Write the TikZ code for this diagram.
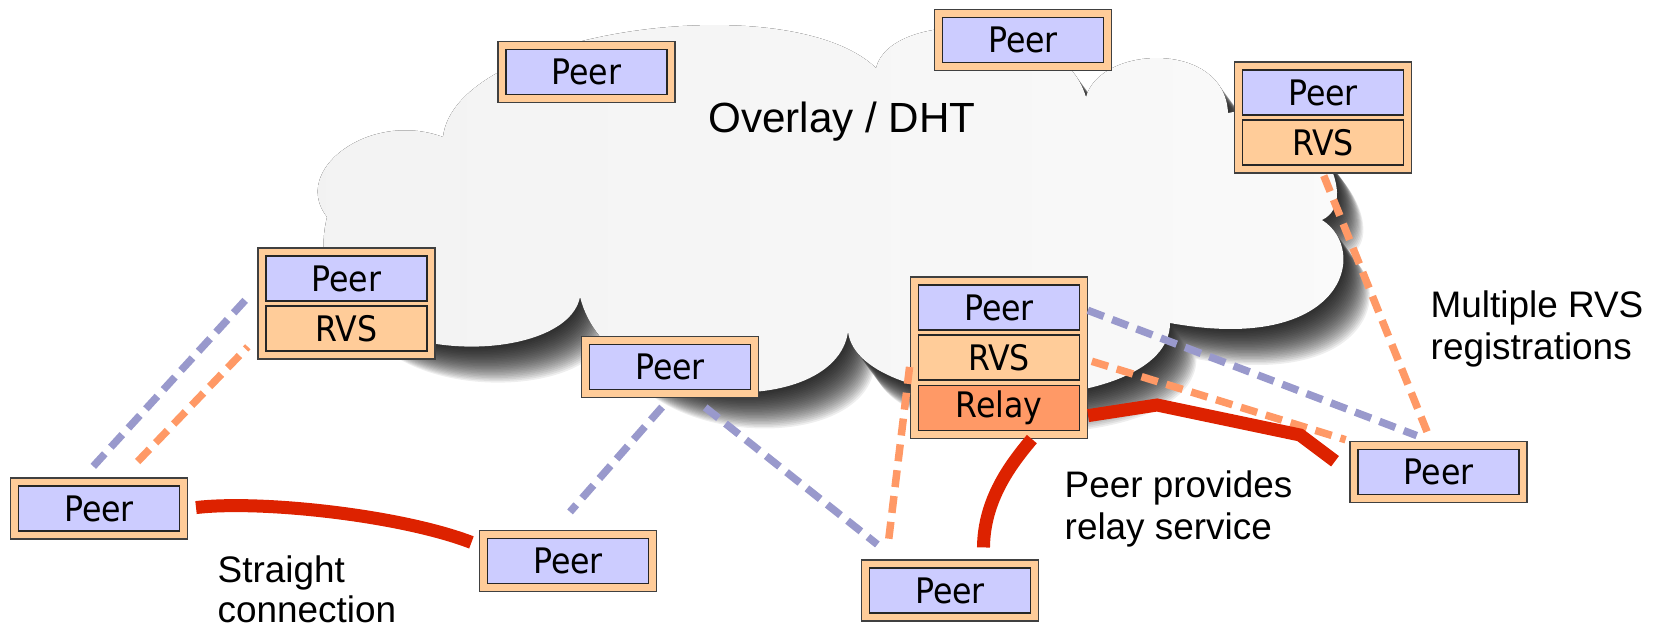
\documentclass[tikz,border=0pt]{standalone}
\usepackage{fontspec}
\setmainfont{Liberation Sans}
\newfontfamily\cellfont{DejaVu Sans}[FakeStretch=0.9]
\usetikzlibrary{positioning,fit,backgrounds}

\definecolor{peerblue}{HTML}{CCCCFF}
\definecolor{rvsorange}{HTML}{FFCC99}
\definecolor{relayorange}{HTML}{FF9966}
\definecolor{dashblue}{HTML}{9999CC}
\definecolor{dashorange}{HTML}{FF9966}
\definecolor{linkred}{HTML}{DD2200}

\tikzset{
  cell/.style={draw=black!85,line width=0.5pt,minimum width=16.1mm,minimum height=4.5mm,inner sep=0pt,font=\cellfont\fontsize{10}{12}\selectfont},
  peer/.style={cell,fill=peerblue},
  rvs/.style={cell,fill=rvsorange},
  relaycell/.style={cell,fill=relayorange},
  hostbox/.style={draw=black!75,line width=0.4pt,fill=rvsorange,inner sep=0.7mm},
  regline/.style={line width=0.75mm,dash pattern=on 1.7mm off 0.9mm},
  bluereg/.style={regline,dashblue},
  orangereg/.style={regline,dashorange},
  datalink/.style={line width=1.3mm,linkred},
  caption/.style={align=left,anchor=north west,inner sep=0pt,font=\fontsize{10.5}{12}\selectfont}
}

\newcommand\cloudpath{(443,137)
  .. controls (455,30) and (790,-15) .. (876,68)
  .. controls (890,10) and (1060,10) .. (1086,97)
  .. controls (1100,45) and (1225,40) .. (1228,113)
  .. controls (1310,95) and (1365,200) .. (1322,220)
  .. controls (1370,250) and (1345,355) .. (1170,323)
  .. controls (1170,420) and (860,420) .. (848,332)
  .. controls (835,420) and (610,415) .. (580,297)
  .. controls (565,375) and (290,370) .. (327,217)
  .. controls (290,170) and (370,110) .. (443,137) -- cycle}

\begin{document}
\begin{tikzpicture}[x=0.1mm,y=-0.1mm,node distance=0.35mm]
	\useasboundingbox (0,0) rectangle (1659,626);
	% overlay cloud with soft shadow
	\begin{scope}[on background layer]
		\foreach \k in {1,...,24}
			\fill[black,opacity=0.065,shift={(1.1*\k,1.5*\k)}] \cloudpath;
		\fill[left color=black!5,right color=black!2] \cloudpath;
	\end{scope}
	\node[font=\fontsize{12}{14}\selectfont,anchor=north,inner sep=0pt] (overlay) at (842,101) {Overlay / DHT};
	% hosts
	\node[peer] (peerTL) at (586.5,72) {Peer};
	\node[peer] (peerTC) at (1023,40) {Peer};
	\node[peer] (peerTR) at (1323,92.5) {Peer};
	\node[rvs,below=of peerTR] (rvsTR) {RVS};
	\node[peer] (peerL) at (346.5,278.5) {Peer};
	\node[rvs,below=of peerL] (rvsL) {RVS};
	\node[peer] (peerM) at (670,367) {Peer};
	\node[peer] (peerR) at (999,307.5) {Peer};
	\node[rvs,below=of peerR] (rvsR) {RVS};
	\node[relaycell,below=of rvsR] (relayR) {Relay};
	\node[peer] (peerBL) at (99,508.5) {Peer};
	\node[peer] (peerBC) at (568,561) {Peer};
	\node[peer] (peerB) at (950,590.5) {Peer};
	\node[peer] (peerE) at (1438.5,472) {Peer};
	\begin{scope}[on background layer]
		\node[hostbox,fit=(peerTL)] (boxTL) {};
		\node[hostbox,fit=(peerTC)] (boxTC) {};
		\node[hostbox,fit=(peerTR)(rvsTR)] (boxTR) {};
		\node[hostbox,fit=(peerL)(rvsL)] (boxL) {};
		\node[hostbox,fit=(peerM)] (boxM) {};
		\node[hostbox,fit=(peerR)(relayR)] (boxR) {};
		\node[hostbox,fit=(peerBL)] (boxBL) {};
		\node[hostbox,fit=(peerBC)] (boxBC) {};
		\node[hostbox,fit=(peerB)] (boxB) {};
		\node[hostbox,fit=(peerE)] (boxE) {};
	\end{scope}
	% registrations
	\draw[bluereg,shorten <=1.5mm,shorten >=2.8mm] (boxBL.117) -- (peerL.west);
	\draw[orangereg,shorten <=2.2mm,shorten >=2.5mm] (boxBL.53) -- (rvsL.west);
	\draw[bluereg,shorten <=1.2mm,shorten >=2.4mm] (boxM.south) -- (boxBC.114);
	\draw[bluereg,shorten <=1.5mm,shorten >=2.4mm] (boxM.-53) -- (boxB.150);
	\draw[orangereg,shorten <=0.3mm,shorten >=1.5mm] (boxR.184) -- (boxB.154);
	\draw[orangereg,shorten <=1.2mm,shorten >=0.4mm] (rvsR.east) -- (boxE.north west);
	\draw[bluereg,shorten <=0.8mm,shorten >=1.5mm] (peerR.east) -- (boxE.104);
	\draw[orangereg,shorten <=0.2mm,shorten >=1mm] (boxTR.south) -- (boxE.104);
	% data connections
	\coordinate (bendA) at (1157,405);
	\coordinate (bendB) at (1300,435);
	\draw[datalink,shorten <=0.8mm,shorten >=0.8mm] (boxBL.east) .. controls (260,500) and (400,515) .. (boxBC.170);
	\draw[datalink,shorten >=1.2mm] (boxR.-68) .. controls (1010,465) and (984,500) .. (boxB.43);
	\draw[datalink,shorten >=1.8mm] (boxR.-33) -- (bendA) -- (bendB) -- (boxE.west);
	% captions
	\node[caption,font=\fontsize{10.5}{11.3}\selectfont] (capStraight) at (217,555) {Straight\\connection};
	\node[caption] (capRelay) at (1064,470) {Peer provides\\relay service};
	\node[caption] (capMulti) at (1430,290) {Multiple RVS\\registrations};
\end{tikzpicture}
\end{document}
